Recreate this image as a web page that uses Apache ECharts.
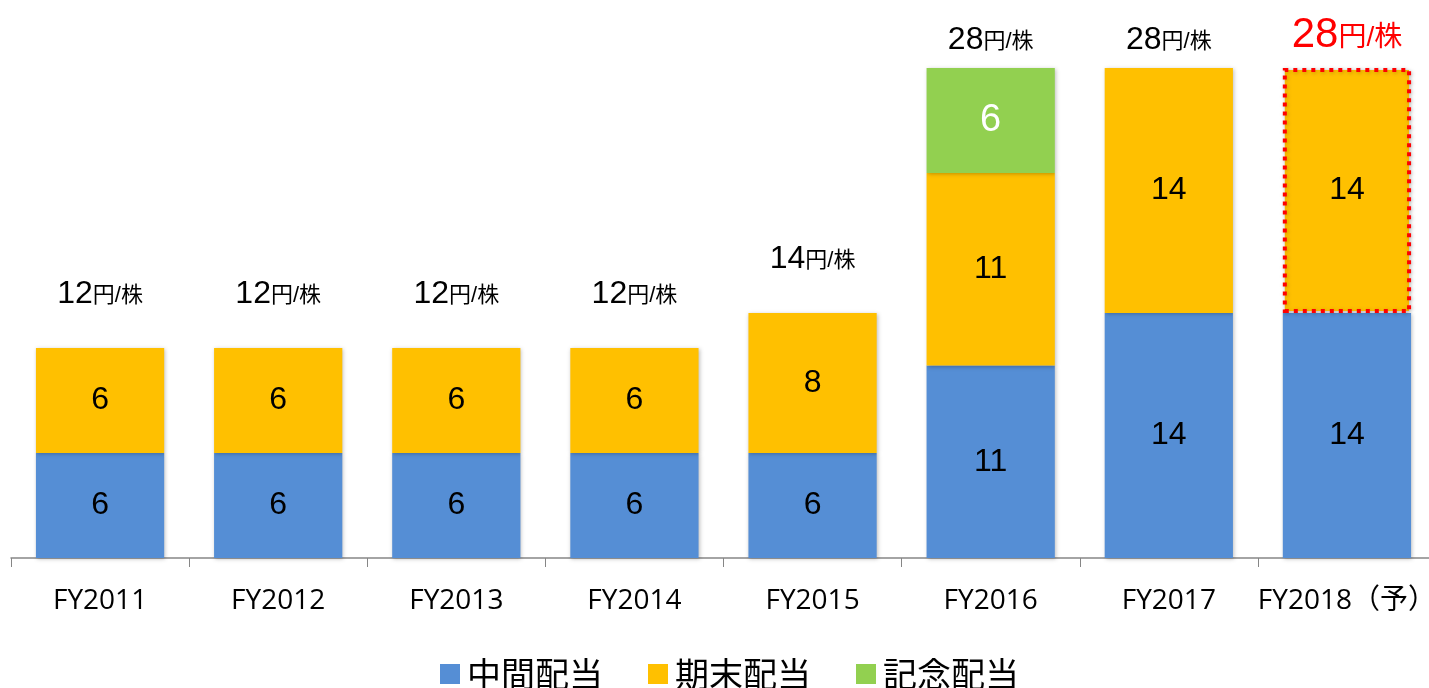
<!DOCTYPE html>
<html>
<head>
<meta charset="utf-8">
<script src="https://cdn.jsdelivr.net/npm/echarts@6/dist/echarts.min.js"></script>
<style>
  html, body { margin: 0; padding: 0; background: #fff; }
  #chart { width: 1429px; height: 688px; }
</style>
</head>
<body>
<div id="chart"></div>
<script>
// 配当推移（円/株）
const categories = ['FY2011', 'FY2012', 'FY2013', 'FY2014', 'FY2015', 'FY2016', 'FY2017', 'FY2018（予）']
const interim = [6, 6, 6, 6, 6, 11, 14, 14]        // 中間配当
const yearEnd = [6, 6, 6, 6, 8, 11, 14, 14]        // 期末配当
const commemorative = [0, 0, 0, 0, 0, 6, 0, 0]     // 記念配当
const totals = [12, 12, 12, 12, 14, 28, 28, 28]
const forecastIndex = 7

const FONT = '"Liberation Sans", Arial, "Noto Sans CJK JP", sans-serif'
const shadow = { shadowColor: 'rgba(0,0,0,0.25)', shadowBlur: 4, shadowOffsetX: 1, shadowOffsetY: 1 }

const segLabel = (color, size) => ({
  show: true,
  position: 'inside',
  color,
  fontSize: size,
  fontFamily: FONT,
  formatter: (p) => (p.value ? p.value : '')
})

// 合計ラベル：積み上げの一番上に表示（予想年度は赤字）
const totalLabel = (i) => {
  const red = i === forecastIndex
  const color = red ? '#ff0000' : '#000'
  return {
    show: true,
    position: 'top',
    distance: totals[i] >= 20 ? 12 : 38,
    formatter: () => `{n|${totals[i]}}{u|円/株}`,
    rich: {
      n: { fontSize: red ? 42 : 32, color, fontFamily: FONT },
      u: { fontSize: red ? 28 : 22, color, fontFamily: FONT, padding: [red ? 6 : 4, 0, 0, 0] }
    }
  }
}

const chart = echarts.init(document.getElementById('chart'))
chart.setOption({
  animation: false,
  grid: { left: 11, width: 1425, top: 33, bottom: 130, containLabel: false, outerBoundsMode: 'none' },
  legend: {
    top: 652,
    left: 435,
    itemWidth: 20,
    itemHeight: 20,
    itemGap: 45,
    icon: 'rect',
    textStyle: { fontSize: 34, color: '#000', fontFamily: '"Noto Sans CJK JP", sans-serif', padding: [0, 0, 0, 2] },
    data: ['中間配当', '期末配当', '記念配当']
  },
  xAxis: {
    type: 'category',
    data: categories,
    axisLine: { lineStyle: { color: '#868686', width: 1.5 } },
    axisTick: { show: true, interval: 0, length: 9, lineStyle: { color: '#868686' } },
    axisLabel: { interval: 0, fontSize: 28, color: '#000', margin: 29, fontFamily: '"Open Sans", "Noto Sans CJK JP", sans-serif' }
  },
  yAxis: { type: 'value', min: 0, max: 30, show: false, splitLine: { show: false } },
  series: [
    {
      name: '中間配当',
      type: 'bar',
      stack: 'div',
      barCategoryGap: '28%',
      itemStyle: { color: '#558ED5', ...shadow },
      label: segLabel('#000', 32),
      data: interim
    },
    {
      name: '期末配当',
      type: 'bar',
      stack: 'div',
      itemStyle: { color: '#FFC000', ...shadow },
      label: segLabel('#000', 32),
      data: yearEnd.map((v, i) => ({
        value: v,
        itemStyle: i === forecastIndex
          ? { borderColor: '#ff0000', borderWidth: 4, borderType: [4, 5] }
          : undefined
      }))
    },
    {
      name: '記念配当',
      type: 'bar',
      stack: 'div',
      itemStyle: { color: '#92D050', ...shadow },
      label: segLabel('#fff', 38),
      data: commemorative.map((v) => (v ? v : null))
    },
    {
      // 合計ラベル用（高さ0の透明バー）
      name: 'total',
      type: 'bar',
      stack: 'div',
      itemStyle: { color: 'transparent' },
      silent: true,
      data: totals.map((t, i) => ({ value: 0, label: totalLabel(i) }))
    }
  ]
})
</script>
</body>
</html>
